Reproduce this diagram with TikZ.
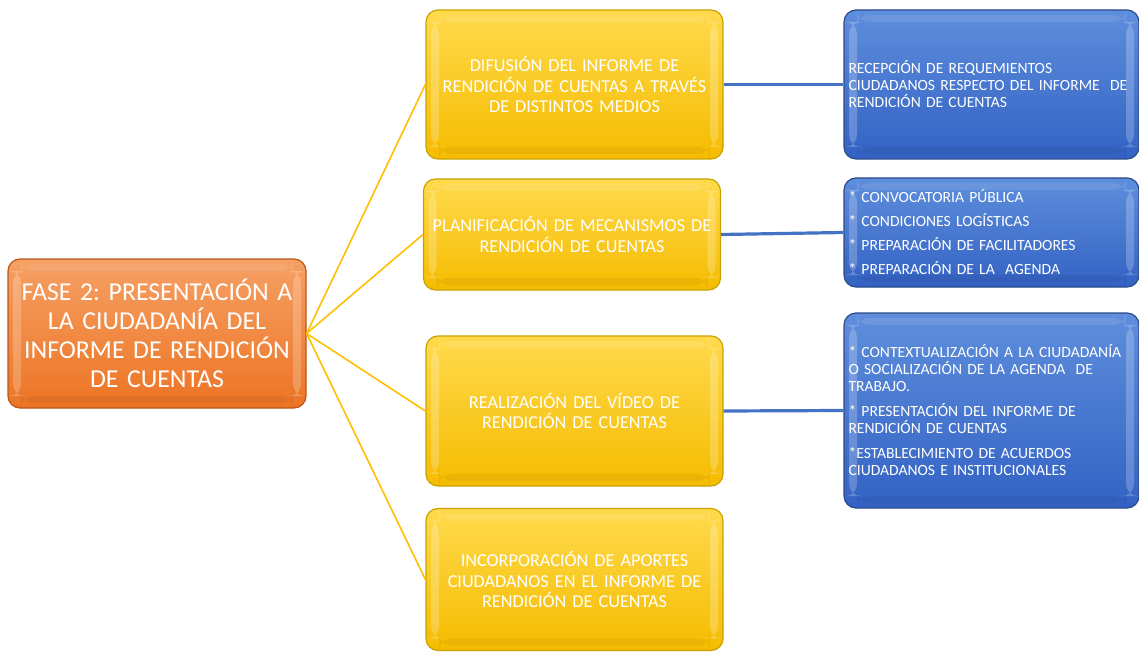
\documentclass[tikz,border=0pt]{standalone}
\usepackage{fontspec}
\setmainfont{Carlito}
\frenchspacing
\definecolor{ytop}{HTML}{FFDA4D}
\definecolor{ymid}{HTML}{FFC90A}
\definecolor{ybot}{HTML}{F5BC00}
\definecolor{ybd}{HTML}{C9A200}
\definecolor{otop}{HTML}{F6A064}
\definecolor{omid}{HTML}{F28230}
\definecolor{obot}{HTML}{EC7424}
\definecolor{obd}{HTML}{B8561A}
\definecolor{btop}{HTML}{5E8EDC}
\definecolor{bmid}{HTML}{4274D0}
\definecolor{bbot}{HTML}{3362C4}
\definecolor{bbd}{HTML}{2A4A8A}
\definecolor{yline}{HTML}{FFC000}
\definecolor{bline}{HTML}{4472C4}
\begin{document}
\begin{tikzpicture}[x=0.5pt,y=-0.5pt,
  gbox/.style={rounded corners=6pt, line width=0.6pt, text=white, inner sep=0pt,
    path picture={
      \fill[white,opacity=0.22] ([xshift=2.5pt,yshift=-6pt]path picture bounding box.north west) rectangle ([xshift=6.5pt,yshift=6pt]path picture bounding box.south west);
      \fill[white,opacity=0.22] ([xshift=-2.5pt,yshift=-6pt]path picture bounding box.north east) rectangle ([xshift=-6.5pt,yshift=6pt]path picture bounding box.south east);
      \fill[white,opacity=0.1] ([xshift=6.5pt,yshift=-2.5pt]path picture bounding box.north west) rectangle ([xshift=-6.5pt,yshift=-6pt]path picture bounding box.north east);
      \fill[black,opacity=0.05] ([xshift=6.5pt,yshift=2.5pt]path picture bounding box.south west) rectangle ([xshift=-6.5pt,yshift=6pt]path picture bounding box.south east);
    }},
  ybox/.style={gbox, draw=ybd, top color=ytop, middle color=ymid, bottom color=ybot,
    minimum width=148.5pt, text width=146pt, align=center, font=\fontsize{9.1}{10.3}\selectfont},
  obox/.style={gbox, draw=obd, top color=otop, middle color=omid, bottom color=obot,
    minimum width=149pt, minimum height=74.5pt, text width=146pt, align=center, font=\fontsize{12.9}{14.4}\selectfont},
  bbox/.style={gbox, draw=bbd, top color=btop, middle color=bmid, bottom color=bbot,
    minimum width=147.5pt, text width=143pt, align=left, font=\fontsize{7.8}{8.5}\selectfont},
  yconn/.style={draw=yline, line width=0.8pt},
  bconn/.style={draw=bline, line width=1.6pt}
]
\useasboundingbox (0,0) rectangle (1139,652);

\node[obox] (o) at (157,333.5) {FASE 2: PRESENTACIÓN A\\LA CIUDADANÍA DEL\\INFORME DE RENDICIÓN\\DE CUENTAS};

\node[ybox, minimum height=74.5pt] (y1) at (574.5,84.5) {DIFUSIÓN DEL INFORME DE\\RENDICIÓN DE CUENTAS A TRAVÉS\\DE DISTINTOS MEDIOS};
\node[ybox, minimum height=55.5pt] (y2) at (572,234.5) {PLANIFICACIÓN DE MECANISMOS DE\\RENDICIÓN DE CUENTAS};
\node[ybox, minimum height=75pt] (y3) at (574.5,411) {REALIZACIÓN DEL VÍDEO DE\\RENDICIÓN DE CUENTAS};
\node[ybox, minimum height=71pt] (y4) at (574.5,579.5) {INCORPORACIÓN DE APORTES\\CIUDADANOS EN EL INFORME DE\\RENDICIÓN DE CUENTAS};

\node[bbox, minimum height=74.5pt] (b1) at (991.5,84.5) {RECEPCIÓN DE REQUEMIENTOS\\CIUDADANOS RESPECTO DEL INFORME~ DE\\RENDICIÓN DE CUENTAS};
\node[bbox, minimum height=54.5pt] (b2) at (991.5,232.5) {* CONVOCATORIA PÚBLICA\\[3.5pt]* CONDICIONES LOGÍSTICAS\\[3.5pt]* PREPARACIÓN DE FACILITADORES\\[3.5pt]* PREPARACIÓN DE LA~ AGENDA};
\node[bbox, minimum height=97.5pt] (b3) at (991.5,410.5) {* CONTEXTUALIZACIÓN A LA CIUDADANÍA\\O SOCIALIZACIÓN DE LA AGENDA~ DE\\TRABAJO.\\[4pt]* PRESENTACIÓN DEL INFORME DE\\RENDICIÓN DE CUENTAS\\[4pt]*ESTABLECIMIENTO DE ACUERDOS\\CIUDADANOS E INSTITUCIONALES};

\draw[yconn] (o.east) -- (y1.west);
\draw[yconn] (o.east) -- (y2.west);
\draw[yconn] (o.east) -- (y3.west);
\draw[yconn] (o.east) -- (y4.west);

\draw[bconn] (y1.east) -- (b1.west);
\draw[bconn] (y2.east) -- (b2.west);
\draw[bconn] (y3.east) -- (b3.west);
\end{tikzpicture}
\end{document}
